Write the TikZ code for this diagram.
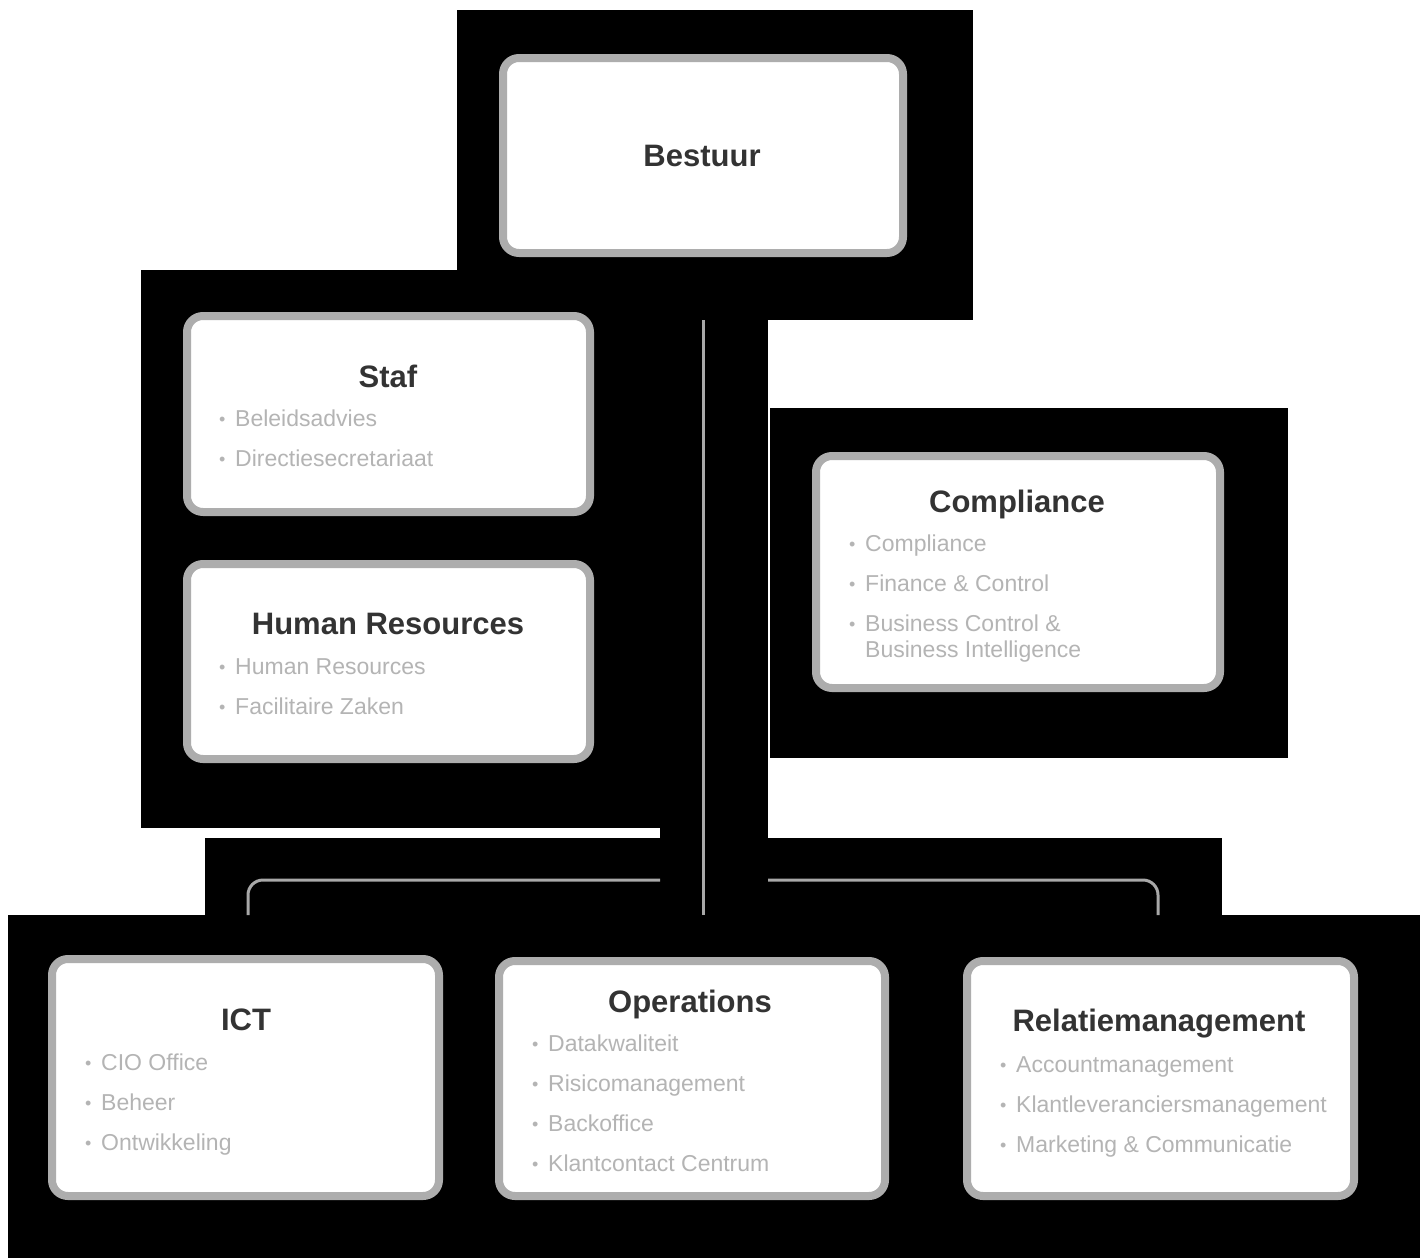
\documentclass[tikz,border=0pt]{standalone}
\usepackage{fontspec}
\setmainfont{Liberation Sans}
\usepackage{tikz}
\usetikzlibrary{positioning}
\definecolor{boxgray}{HTML}{ADADAD}
\definecolor{titlegray}{HTML}{333333}
\definecolor{itemgray}{HTML}{B4B4B4}
\definecolor{linegray}{HTML}{A8A8A8}
% bullet in front of every list line
\newcommand{\bl}{\makebox[16pt][l]{\raisebox{1pt}{\fontsize{18}{18}\selectfont\textbullet}}}

\begin{document}
\begin{tikzpicture}[x=1pt,y=-1pt,
  unit box/.style={rectangle,draw=boxgray,line width=8pt,fill=white,rounded corners=16pt,inner sep=0pt},
  unit title/.style={anchor=base,inner sep=0pt,text=titlegray,font=\bfseries\fontsize{31}{31}\selectfont},
  unit list/.style={anchor=base west,inner sep=0pt,text=itemgray,font=\fontsize{23}{26}\selectfont},
  conn/.style={draw=linegray,line width=3pt,rounded corners=15pt}]

\useasboundingbox (0,0) rectangle (1428,1258);

% dark backing panels
\fill[black] (457,10) rectangle (973,320);
\fill[black] (141,270) rectangle (660,828);
\fill[black] (660,320) rectangle (768,915);
\fill[black] (770,408) rectangle (1288,758);
\fill[black] (205,838) rectangle (660,915);
\fill[black] (768,838) rectangle (1222,915);
\fill[black] (8,915) rectangle (1420,1258);

% connectors
\coordinate (spinetop) at (703,320);
\coordinate (spinebot) at (703,915);
\coordinate (leftjoin) at (660,880);
\coordinate (rightjoin) at (768,880);
\coordinate (ictin) at (248,915);
\coordinate (relin) at (1158,915);
\draw[conn] (spinetop) -- (spinebot);
\draw[conn] (leftjoin) -| (ictin);
\draw[conn] (rightjoin) -| (relin);

% boxes
\node[unit box,minimum width=400pt,minimum height=195pt] (bestuur) at (703,155.5) {};
\node[unit box,minimum width=403pt,minimum height=196pt] (staf) at (388.5,414) {};
\node[unit box,minimum width=403pt,minimum height=195pt] (hr) at (388.5,661.5) {};
\node[unit box,minimum width=404pt,minimum height=232pt] (compliance) at (1018,572) {};
\node[unit box,minimum width=387pt,minimum height=237pt] (ict) at (245.5,1077.5) {};
\node[unit box,minimum width=386pt,minimum height=235pt] (operations) at (692,1078.5) {};
\node[unit box,minimum width=387pt,minimum height=235pt] (relatie) at (1160.5,1078.5) {};

% titles
\node[unit title] (bestuurt) at (702,166) {Bestuur};
\node[unit title] (staft) at (388,387) {Staf};
\node[unit title] (hrt) at (388,634) {Human Resources};
\node[unit title] (compliancet) at (1017,512) {Compliance};
\node[unit title] (ictt) at (246,1030) {ICT};
\node[unit title] (operationst) at (690,1012) {Operations};
\node[unit title] (relatiet) at (1159,1031) {Relatiemanagement};

% lists
\node[unit list] (stafl) at (219,426) {\begin{tabular}[t]{@{}l@{}l@{}}
\bl & Beleidsadvies\\[14pt]
\bl & Directiesecretariaat
\end{tabular}};
\node[unit list] (hrl) at (219,674) {\begin{tabular}[t]{@{}l@{}l@{}}
\bl & Human Resources\\[14pt]
\bl & Facilitaire Zaken
\end{tabular}};
\node[unit list] (compliancel) at (849,551) {\begin{tabular}[t]{@{}l@{}l@{}}
\bl & Compliance\\[14pt]
\bl & Finance \& Control\\[14pt]
\bl & Business Control \&\\
    & Business Intelligence
\end{tabular}};
\node[unit list] (ictl) at (85,1070) {\begin{tabular}[t]{@{}l@{}l@{}}
\bl & CIO Office\\[14pt]
\bl & Beheer\\[14pt]
\bl & Ontwikkeling
\end{tabular}};
\node[unit list] (operationsl) at (532,1051) {\begin{tabular}[t]{@{}l@{}l@{}}
\bl & Datakwaliteit\\[14pt]
\bl & Risicomanagement\\[14pt]
\bl & Backoffice\\[14pt]
\bl & Klantcontact Centrum
\end{tabular}};
\node[unit list] (relatiel) at (1000,1072) {\begin{tabular}[t]{@{}l@{}l@{}}
\bl & Accountmanagement\\[14pt]
\bl & Klantleveranciersmanagement\\[14pt]
\bl & Marketing \& Communicatie
\end{tabular}};

\end{tikzpicture}
\end{document}
